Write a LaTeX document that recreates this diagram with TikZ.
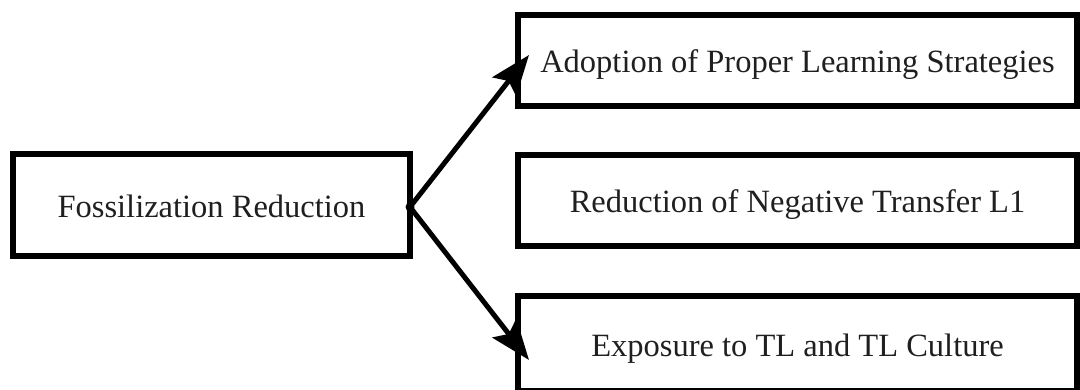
\documentclass[tikz,border=0pt]{standalone}
\usepackage{fontspec}
\setmainfont{Liberation Serif}
\usetikzlibrary{arrows.meta}
\begin{document}
\begin{tikzpicture}[x=1pt,y=-1pt,
  boxnode/.style={draw=black, line width=6pt, inner sep=0pt, align=center,
    text height=25pt, text depth=0pt, text=black!88,
    font=\fontsize{32.5}{39}\selectfont},
  conn/.style={draw=black, line width=5pt,
    -{Stealth[length=40pt,width=30pt,inset=7pt]}}]
\useasboundingbox (0,0) rectangle (1080,390);
\node[boxnode, minimum width=397pt, minimum height=102pt] (L) at (211.5,205) {Fossilization Reduction};
\node[boxnode, minimum width=559pt, minimum height=91pt] (A) at (797.5,60.5) {Adoption of Proper Learning Strategies};
\node[boxnode, minimum width=559pt, minimum height=91pt] (B) at (797.5,200.5) {Reduction of Negative Transfer L1};
\node[boxnode, minimum width=559pt, minimum height=95pt] (C) at (797.5,343.5) {Exposure to TL and TL Culture};
\coordinate (s) at (410,207);
\coordinate (tA) at (529,55);
\coordinate (tC) at (529,360);
\fill[black] (s) circle (4.5pt);
\draw[conn] (s) -- (tA);
\draw[conn] (s) -- (tC);
\end{tikzpicture}
\end{document}
